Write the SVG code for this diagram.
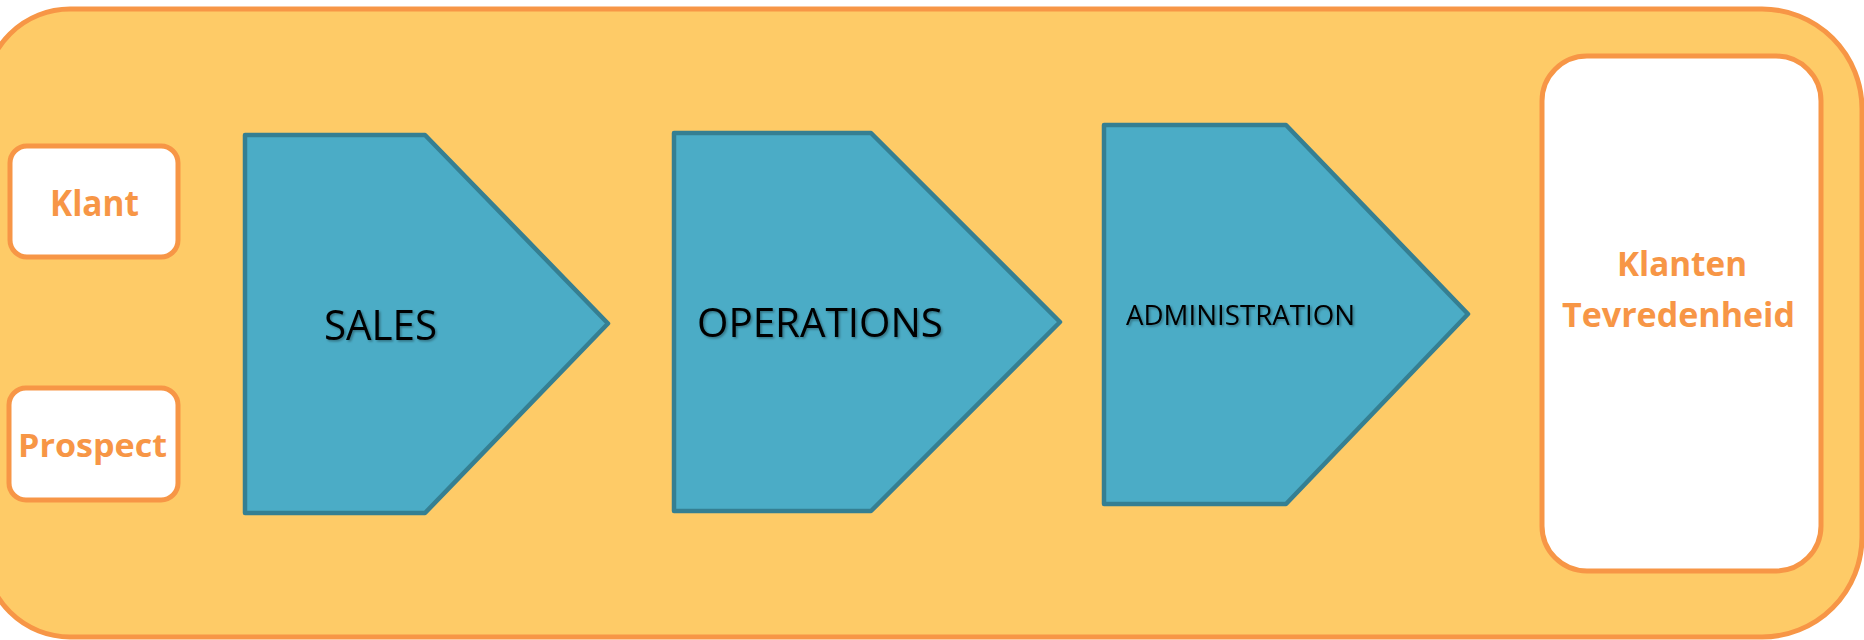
<svg xmlns="http://www.w3.org/2000/svg" width="1864" height="640" viewBox="0 0 1864 640">
  <defs>
    <filter id="shadow" x="-10%" y="-20%" width="120%" height="140%">
      <feDropShadow dx="1.5" dy="1.5" stdDeviation="1" flood-color="#000" flood-opacity="0.35"/>
    </filter>
  </defs>
  <style>
    .frame { fill: #FECB67; stroke: #F79646; stroke-width: 5; }
    .box { fill: #FFFFFF; stroke: #F79646; stroke-width: 5; }
    .chev { fill: #4BACC6; stroke: #357F92; stroke-width: 4.5; stroke-linejoin: round; }
    .lbl { font-family: "Open Sans", "Liberation Sans", sans-serif; font-weight: bold; fill: #F79646; }
    .step { font-family: "Open Sans", "Liberation Sans", sans-serif; fill: #000000; }
  </style>
  <rect width="1864" height="640" fill="#FFFFFF"/>
  <g id="frame">
    <path class="frame" d="M70,9 L1762,9 A100,100 0 0 1 1862,109 L1862,537 A100,100 0 0 1 1762,637 L70,637 A85,85 0 0 1 -15,552 L-15,94 A85,85 0 0 1 70,9 Z"/>
  </g>
  <g id="connectors"/>
  <g id="klant">
    <rect class="box" x="10" y="146" width="168" height="111" rx="17"/>
    <text class="lbl" x="50" y="216" font-size="36" textLength="89" lengthAdjust="spacingAndGlyphs">Klant</text>
  </g>
  <g id="prospect">
    <rect class="box" x="9" y="388" width="169" height="112" rx="17"/>
    <text class="lbl" x="18" y="457" font-size="33" textLength="149" lengthAdjust="spacingAndGlyphs">Prospect</text>
  </g>
  <g id="sales">
    <polygon class="chev" points="245,135 425,135 608,323.5 425,513 245,513"/>
    <text class="step" x="324" y="340" font-size="42" textLength="113" lengthAdjust="spacingAndGlyphs" filter="url(#shadow)">SALES</text>
  </g>
  <g id="operations">
    <polygon class="chev" points="674,133 871,133 1060,322 871,511 674,511"/>
    <text class="step" x="697" y="337" font-size="41" textLength="246" lengthAdjust="spacingAndGlyphs" filter="url(#shadow)">OPERATIONS</text>
  </g>
  <g id="administration">
    <polygon class="chev" points="1104,125 1286,125 1468,314 1286,504 1104,504"/>
    <text class="step" x="1126" y="325" font-size="27" textLength="229" lengthAdjust="spacingAndGlyphs" filter="url(#shadow)">ADMINISTRATION</text>
  </g>
  <g id="klanten-tevredenheid">
    <rect class="box" x="1542" y="56" width="279" height="515" rx="45"/>
    <text class="lbl" x="1617" y="276" font-size="34" textLength="130" lengthAdjust="spacingAndGlyphs">Klanten</text>
    <text class="lbl" x="1562" y="327" font-size="34" textLength="233" lengthAdjust="spacingAndGlyphs">Tevredenheid</text>
  </g>
</svg>
